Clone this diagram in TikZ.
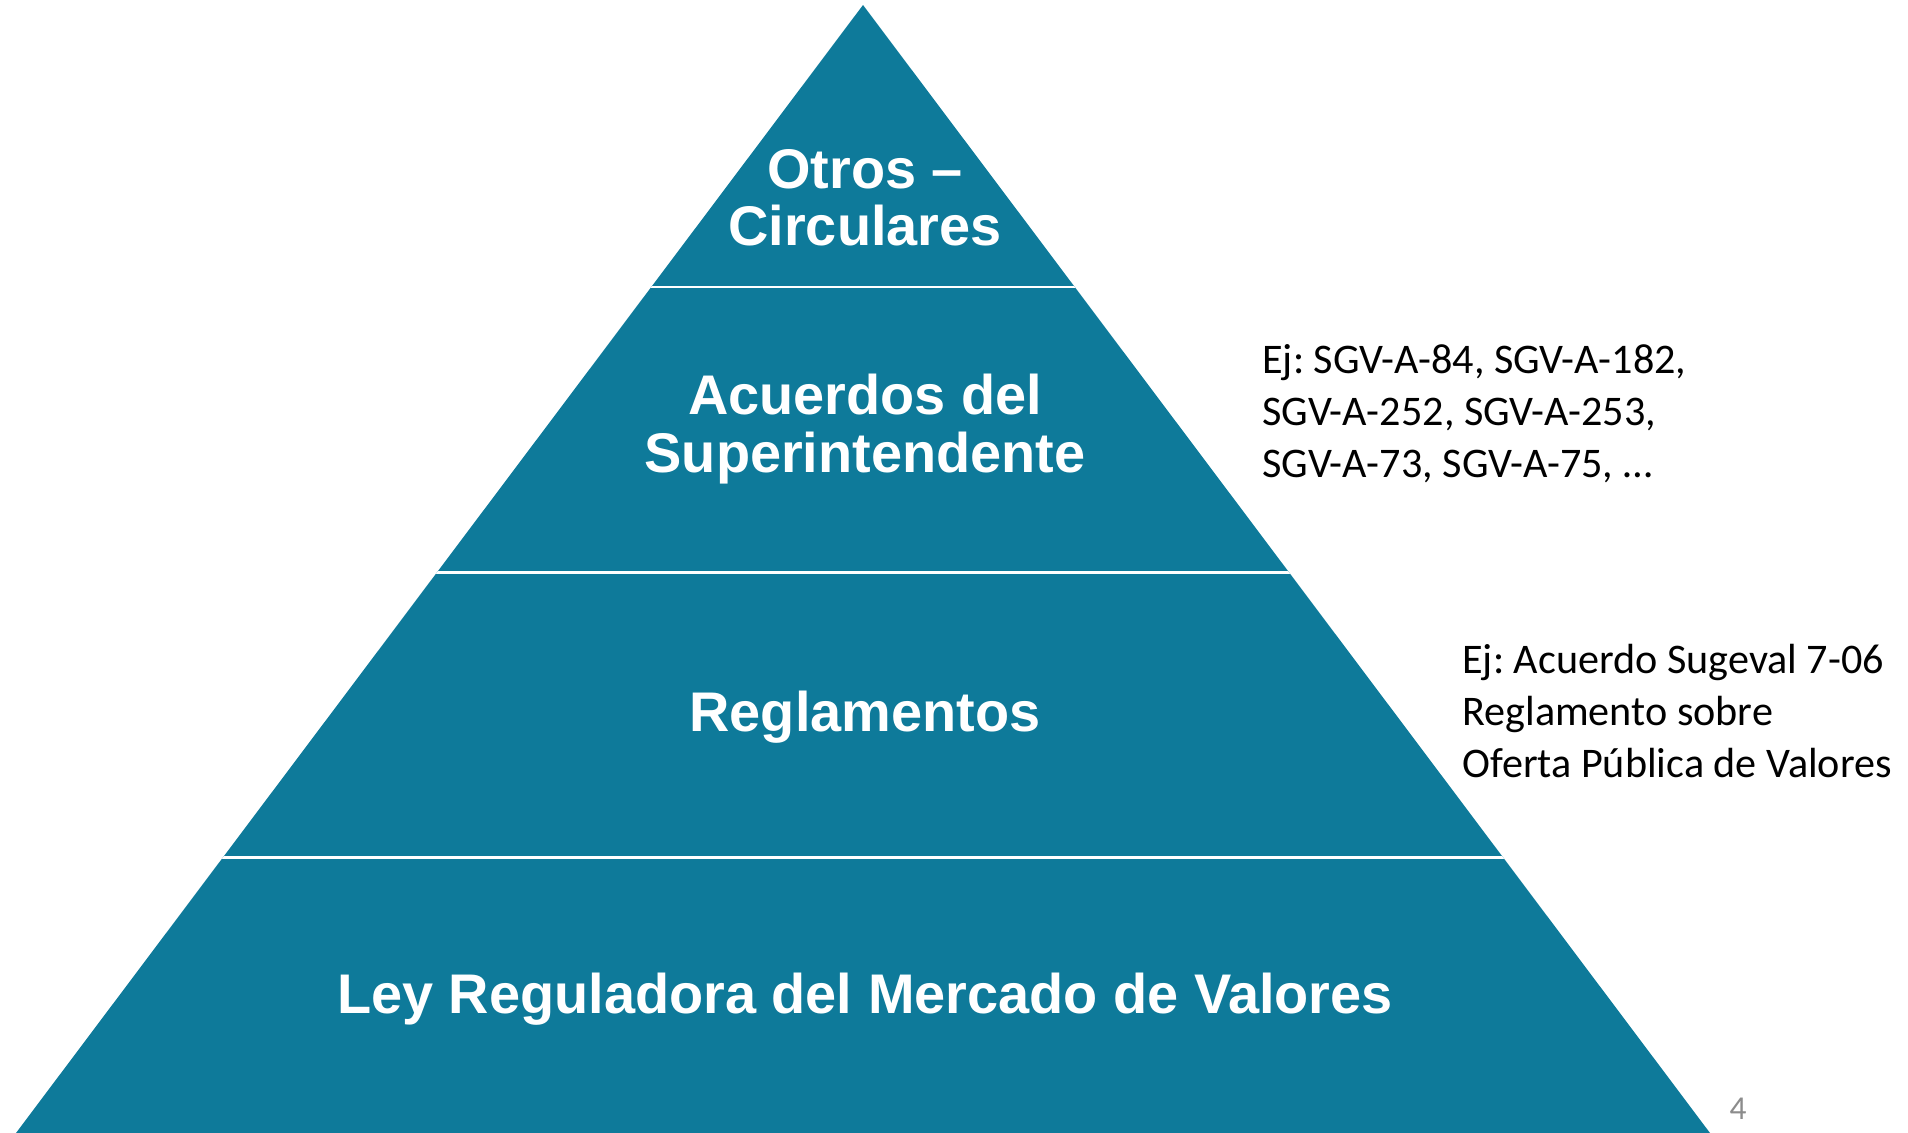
\documentclass[tikz,border=0pt]{standalone}
\usepackage{fontspec}
\setmainfont{Liberation Sans}
\newfontfamily\notefont{Carlito}
\usetikzlibrary{positioning, calc}
\definecolor{tiercolor}{RGB}{14, 122, 154}
\definecolor{pagenumcolor}{RGB}{140, 140, 140}
\frenchspacing

\begin{document}
\begin{tikzpicture}[
        x=0.02cm, y=-0.02cm,
        tier/.style={text=white, inner sep=0pt, font=\fontsize{31.8}{32.6}\selectfont\bfseries, align=center},
        note/.style={text=black, inner sep=0pt, font=\notefont\fontsize{24}{29.6}\selectfont, align=left, anchor=west},
        divider/.style={white, line width=1.7pt}
    ]
        \useasboundingbox (0,0) rectangle (1908,1133);

        % Pyramid
        \coordinate (apex) at (863,5);
        \coordinate (baseleft) at (16,1133);
        \coordinate (baseright) at (1710,1133);
        \fill[tiercolor] (apex) -- (baseleft) -- (baseright) -- cycle;

        % Dividers
        \begin{scope}
            \clip (apex) -- (baseleft) -- (baseright) -- cycle;
            \foreach \y in {287, 572, 857}
                \draw[divider] (0,\y) -- (1908,\y);
        \end{scope}

        % Tier labels
        \node[tier] (otros) at (865,198) {Otros --\\Circulares};
        \node[tier] (acuerdos) at (865,429) {Acuerdos del\\Superintendente};
        \node[tier] (reglamentos) at (865,717) {Reglamentos};
        \node[tier] (ley) at (865,999) {Ley Reguladora del Mercado de Valores};

        % Examples
        \node[note] (ejacuerdos) at (1262,414) {Ej: SGV-A-84, SGV-A-182,\\SGV-A-252, SGV-A-253,\\SGV-A-73, SGV-A-75, \dots};
        \node[note] (ejreglamentos) at (1462,711) {Ej: Acuerdo Sugeval 7-06\\Reglamento sobre\\Oferta Pública de Valores};

        % Page number
        \node[text=pagenumcolor, font=\notefont\fontsize{19}{22}\selectfont] (pagenum) at (1738,1109) {4};
    \end{tikzpicture}
\end{document}
